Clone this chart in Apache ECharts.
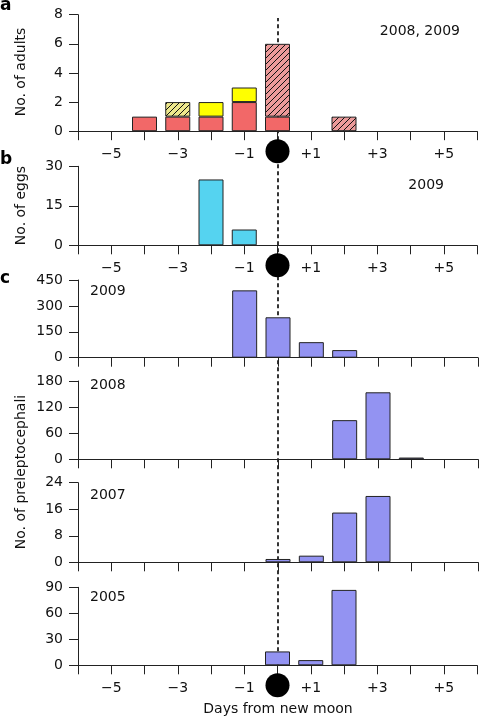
<!DOCTYPE html>
<html>
<head>
<meta charset="utf-8">
<script src="https://cdn.jsdelivr.net/npm/echarts@6/dist/echarts.min.js"></script>
<style>
html,body{margin:0;padding:0;background:#fff;}
#c{width:480px;height:718px;}
</style>
</head>
<body>
<div id="c"></div>
<script>
// ---- data ----
var dayCategories = ['-6', '-5', '-4', '-3', '-2', '-1', '0', '1', '2', '3', '4', '5', '6'];

var adultDays = [-4, -3, -2, -1, 0, 2];
var adultsRed = [1, 1, 1, 2, 1, '-'];
var adultsYellow = ['-', '-', 1, 1, '-', '-'];
var adultsYellowHatched = ['-', 1, '-', '-', '-', '-'];
var adultsRedHatched = ['-', '-', '-', '-', 5, 1];

var eggDays = [-2, -1];
var eggCounts = [25, 6];

var larvae2009Days = [-1, 0, 1, 2];
var larvae2009 = [390, 234, 90, 44];
var larvae2008Days = [2, 3, 4];
var larvae2008 = [90, 154, 4];
var larvae2007Days = [0, 1, 2, 3];
var larvae2007 = [1, 2, 15, 20];
var larvae2005Days = [0, 1, 2];
var larvae2005 = [16, 6, 87];

var yMax = [8, 30, 450, 180, 24, 90];
var yStep = [2, 15, 150, 60, 8, 30];

// ---- helpers ----
function hatch(bg) {
  var s = 6, cv = document.createElement('canvas');
  cv.width = s; cv.height = s;
  var g = cv.getContext('2d');
  g.fillStyle = bg; g.fillRect(0, 0, s, s);
  g.strokeStyle = '#111'; g.lineWidth = 1;
  g.beginPath();
  g.moveTo(-1, s + 1); g.lineTo(s + 1, -1);
  g.moveTo(-1, 1); g.lineTo(1, -1);
  g.moveTo(s - 1, s + 1); g.lineTo(s + 1, s - 1);
  g.stroke();
  return { image: cv, repeat: 'repeat' };
}
function pairs(xs, ys) { return xs.map(function (x, i) { return [String(x), ys[i]]; }); }

var F = 'DejaVu Sans';
var RED = '#F26868', YEL = '#FFFF00', CYAN = '#55D3F0', PURP = '#9393F2';
var border = { borderColor: '#222', borderWidth: 1 };

var grids = [
  { left: 78, right: 2, top: 14.7, height: 116.5 },
  { left: 78, right: 2, top: 166.3, height: 79 },
  { left: 78, right: 2, top: 280, height: 77.7 },
  { left: 78, right: 2, top: 381, height: 78.3 },
  { left: 78, right: 2, top: 482.7, height: 79.6 },
  { left: 78, right: 2, top: 587.3, height: 78 },
  { left: 78, right: 2, top: 18, height: 647.3 } // overlay for the dashed new-moon line
];

function fmtX(s) {
  var v = Number(s);
  if (v === 0) return '{m| }';
  if (Math.abs(v) % 2 === 1) return '{t|' + (v < 0 ? '\u2212' + (-v) : '+' + v) + '}';
  return '';
}

var xAxes = [], yAxes = [];
for (var i = 0; i < 6; i++) {
  var showLab = (i === 0 || i === 1 || i === 5);
  xAxes.push({
    type: 'category', gridIndex: i, data: dayCategories, boundaryGap: false, z: 5,
    axisLine: { show: true, lineStyle: { color: '#222', width: 1 } },
    axisTick: { show: true, length: 9, interval: 0, lineStyle: { color: '#222' } },
    splitLine: { show: false },
    axisLabel: {
      show: showLab, margin: 8, interval: 0, formatter: fmtX, color: '#111',
      rich: {
        t: { fontSize: 14, fontFamily: F, color: '#111', lineHeight: 30 },
        m: { width: 24, height: 24, borderRadius: 12, backgroundColor: '#000' }
      }
    }
  });
  yAxes.push({
    type: 'value', gridIndex: i, min: 0, max: yMax[i], interval: yStep[i],
    axisLine: { show: true, lineStyle: { color: '#222', width: 1 } },
    axisTick: { show: true, length: 9, lineStyle: { color: '#222' } },
    splitLine: { show: false },
    axisLabel: { margin: 15, fontSize: 14, fontFamily: F, color: '#111' }
  });
}
xAxes.push({ type: 'value', gridIndex: 6, min: -6, max: 6, show: false });
yAxes.push({ type: 'value', gridIndex: 6, min: 0, max: 1, show: false });

function barSeries(axis, data, color, extra) {
  var s = {
    type: 'bar', xAxisIndex: axis, yAxisIndex: axis, data: data, barWidth: 25,
    itemStyle: Object.assign({ color: color }, border), animation: false, z: 3
  };
  return Object.assign(s, extra || {});
}

var series = [
  barSeries(0, pairs(adultDays, adultsRed), RED, { stack: 'a' }),
  barSeries(0, pairs(adultDays, adultsYellow), YEL, { stack: 'a' }),
  barSeries(0, pairs(adultDays, adultsYellowHatched), hatch('#EEE88C'), { stack: 'a' }),
  barSeries(0, pairs(adultDays, adultsRedHatched), hatch('#EC9A9A'), { stack: 'a' }),
  barSeries(1, pairs(eggDays, eggCounts), CYAN),
  barSeries(2, pairs(larvae2009Days, larvae2009), PURP),
  barSeries(3, pairs(larvae2008Days, larvae2008), PURP),
  barSeries(4, pairs(larvae2007Days, larvae2007), PURP),
  barSeries(5, pairs(larvae2005Days, larvae2005), PURP),
  {
    type: 'line', xAxisIndex: 6, yAxisIndex: 6, data: [[0, 0], [0, 1]],
    symbol: 'none', z: 1, animation: false, silent: true,
    lineStyle: { color: '#000', width: 1.6, type: [4, 3] }
  }
];

function txt(x, y, s, opt) {
  return {
    type: 'text', x: x, y: y, z: 10,
    style: Object.assign({ text: s, fontSize: 14, fontFamily: F, fill: '#111', align: 'left', verticalAlign: 'middle' }, opt || {})
  };
}
var graphics = [
  txt(0, 5.5, 'a', { fontSize: 17, fontWeight: 'bold', fill: '#000' }),
  txt(0, 159.5, 'b', { fontSize: 17, fontWeight: 'bold', fill: '#000' }),
  txt(0, 279, 'c', { fontSize: 17, fontWeight: 'bold', fill: '#000' }),
  txt(460, 31.8, '2008, 2009', { align: 'right' }),
  txt(444, 185, '2009', { align: 'right' }),
  txt(90, 291.8, '2009'),
  txt(90, 385, '2008'),
  txt(90, 495.8, '2007'),
  txt(90, 597.4, '2005'),
  txt(278, 709, 'Days from new moon', { align: 'center' }),
  { type: 'text', x: 21, y: 72, rotation: Math.PI / 2, z: 10,
    style: { text: 'No. of adults', fontSize: 14, fontFamily: F, fill: '#111', align: 'center', verticalAlign: 'middle' } },
  { type: 'text', x: 21, y: 205.5, rotation: Math.PI / 2, z: 10,
    style: { text: 'No. of eggs', fontSize: 14, fontFamily: F, fill: '#111', align: 'center', verticalAlign: 'middle' } },
  { type: 'text', x: 21, y: 472, rotation: Math.PI / 2, z: 10,
    style: { text: 'No. of preleptocephali', fontSize: 14, fontFamily: F, fill: '#111', align: 'center', verticalAlign: 'middle' } }
];

var chart = echarts.init(document.getElementById('c'), null, { renderer: 'canvas' });
chart.setOption({
  animation: false,
  backgroundColor: '#fff',
  grid: grids,
  xAxis: xAxes,
  yAxis: yAxes,
  series: series,
  graphic: graphics
});
</script>
</body>
</html>
